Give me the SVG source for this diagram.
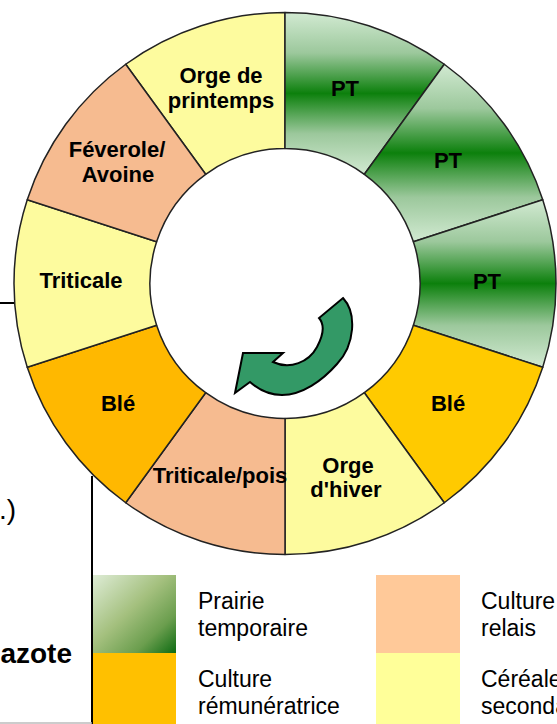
<svg xmlns="http://www.w3.org/2000/svg" width="557" height="724" viewBox="0 0 557 724">
<defs>
<linearGradient id="pt" x1="0" y1="0" x2="0" y2="1">
<stop offset="0" stop-color="#D2EAD2"/>
<stop offset="0.25" stop-color="#9CC89C"/>
<stop offset="0.5" stop-color="#0C800C"/>
<stop offset="0.75" stop-color="#9CC89C"/>
<stop offset="1" stop-color="#D2EAD2"/>
</linearGradient>
<linearGradient id="lg" x1="0" y1="0" x2="1" y2="1">
<stop offset="0" stop-color="#DEECD6"/>
<stop offset="0.45" stop-color="#A4C07E"/>
<stop offset="0.75" stop-color="#6B9E4E"/>
<stop offset="1" stop-color="#0D6B12"/>
</linearGradient>
<style>
.seg{stroke:#222;stroke-width:1.5;stroke-linejoin:round}
.y{fill:#FDFB9E}
.p{fill:#F6BB90}
.lab{font-family:"Liberation Sans",Arial,sans-serif;font-weight:bold;font-size:22px;fill:#000;text-anchor:middle}
.leg{font-family:"Liberation Sans",Arial,sans-serif;font-size:23px;fill:#000}
.ln{stroke:#000;stroke-width:2;fill:none}
</style>
</defs>
<rect width="557" height="724" fill="#fff"/>

<g id="lines">
<line class="ln" x1="0" y1="303" x2="16" y2="303"/>
<line class="ln" x1="92" y1="476" x2="92" y2="724"/>
<line x1="0" y1="723" x2="92" y2="723" stroke="#BBBBBB" stroke-width="1.5"/>
</g>

<g id="orge-printemps">
<path class="seg y" d="M125.71,64.26 A271,271 0 0 1 285,12.5 L285,148.5 A135,135 0 0 0 205.65,174.28 Z"/>
<text class="lab" x="221" y="83">Orge de</text>
<text class="lab" x="221" y="108">printemps</text>
</g>
<g id="pt1">
<path class="seg" fill="url(#pt)" d="M285,12.5 A271,271 0 0 1 444.29,64.26 L364.35,174.28 A135,135 0 0 0 285,148.5 Z"/>
<text class="lab" x="345" y="96">PT</text>
</g>
<g id="pt2">
<path class="seg" fill="url(#pt)" d="M444.29,64.26 A271,271 0 0 1 542.75,199.76 L413.4,241.78 A135,135 0 0 0 364.35,174.28 Z"/>
<text class="lab" x="448" y="168">PT</text>
</g>
<g id="pt3">
<path class="seg" fill="url(#pt)" d="M542.75,199.76 A271,271 0 0 1 542.75,367.24 L413.4,325.22 A135,135 0 0 0 413.4,241.78 Z"/>
<text class="lab" x="487" y="289">PT</text>
</g>
<g id="ble-droite">
<path class="seg" fill="#FFCA00" d="M542.75,367.24 A271,271 0 0 1 444.29,502.74 L364.35,392.72 A135,135 0 0 0 413.4,325.22 Z"/>
<text class="lab" x="448" y="411">Blé</text>
</g>
<g id="orge-hiver">
<path class="seg y" d="M444.29,502.74 A271,271 0 0 1 285,554.5 L285,418.5 A135,135 0 0 0 364.35,392.72 Z"/>
<text class="lab" x="348" y="473">Orge</text>
<text class="lab" x="346" y="497">d'hiver</text>
</g>
<g id="triticale-pois">
<path class="seg p" d="M285,554.5 A271,271 0 0 1 125.71,502.74 L205.65,392.72 A135,135 0 0 0 285,418.5 Z"/>
<text class="lab" x="220" y="483">Triticale/pois</text>
</g>
<g id="ble-gauche">
<path class="seg" fill="#FFB800" d="M125.71,502.74 A271,271 0 0 1 27.25,367.24 L156.6,325.22 A135,135 0 0 0 205.65,392.72 Z"/>
<text class="lab" x="118" y="411">Blé</text>
</g>
<g id="triticale">
<path class="seg y" d="M27.25,367.24 A271,271 0 0 1 27.25,199.76 L156.6,241.78 A135,135 0 0 0 156.6,325.22 Z"/>
<text class="lab" x="81" y="288">Triticale</text>
</g>
<g id="feverole-avoine">
<path class="seg p" d="M27.25,199.76 A271,271 0 0 1 125.71,64.26 L205.65,174.28 A135,135 0 0 0 156.6,241.78 Z"/>
<text class="lab" x="117" y="157">Féverole/</text>
<text class="lab" x="118" y="182">Avoine</text>
</g>

<g id="fleche">
<path d="M343,298 C357,313 355,345 337,364 C322,381 302,395 282,395 C270,395 259,390 250,382 L235,393 L243,353 L283,353 L273,362 C290,370 309,362 317,347 C324,334 325,325 319,318 Z" fill="#339966" stroke="#000" stroke-width="2" stroke-linejoin="miter"/>
</g>

<g id="texte-gauche">
<text x="16" y="519" font-family="Liberation Sans, Arial, sans-serif" font-size="28" text-anchor="end">.)</text>
<text x="72" y="663" font-family="Liberation Sans, Arial, sans-serif" font-size="28" font-weight="bold" text-anchor="end">azote</text>
</g>

<g id="legende-prairie">
<rect x="93" y="575" width="83" height="78" fill="url(#lg)"/>
<text class="leg" x="198" y="609">Prairie</text>
<text class="leg" x="198" y="636">temporaire</text>
</g>
<g id="legende-remuneratrice">
<rect x="93" y="653" width="83" height="71" fill="#FFC000"/>
<text class="leg" x="198" y="687">Culture</text>
<text class="leg" x="198" y="714">rémunératrice</text>
</g>
<g id="legende-relais">
<rect x="376" y="575" width="84" height="78" fill="#FFC999"/>
<text class="leg" x="481" y="609">Culture</text>
<text class="leg" x="481" y="636">relais</text>
</g>
<g id="legende-cereale">
<rect x="376" y="653" width="84" height="71" fill="#FFFF99"/>
<text class="leg" x="481" y="687">Céréale</text>
<text class="leg" x="481" y="714">secondaire</text>
</g>
</svg>
